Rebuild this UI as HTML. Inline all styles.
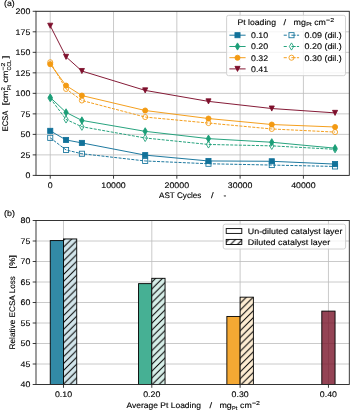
<!DOCTYPE html>
<html><head><meta charset="utf-8"><style>
html,body{margin:0;padding:0;background:#fff;width:350px;height:410px;overflow:hidden}
svg{display:block}
text{font-family:"Liberation Sans", sans-serif}
svg{will-change:transform}
text{stroke:#000;stroke-width:0.12px;paint-order:fill}
</style></head><body>
<svg width="350" height="410" viewBox="0 0 350 410" font-family='"Liberation Sans", sans-serif' text-rendering="geometricPrecision">
<rect width="350" height="410" fill="#fff"/>
<defs>
<clipPath id="ca"><rect x="36.00" y="11.30" width="313.30" height="164.10"/></clipPath>
<clipPath id="cb"><rect x="36.00" y="220.50" width="313.30" height="164.00"/></clipPath>
<pattern id="hatch" patternUnits="userSpaceOnUse" x="2.4" y="0" width="6.85" height="6.85"><path d="M-1 1.00 L1 -1 M0 6.85 L6.85 0 M5.85 7.85 L7.85 5.85" stroke="#000" stroke-width="1.0"/></pattern>
</defs>
<g stroke="#bdbdbd" stroke-width="0.8">
<line x1="50.24" y1="11.3" x2="50.24" y2="175.4"/>
<line x1="113.53" y1="11.3" x2="113.53" y2="175.4"/>
<line x1="176.83" y1="11.3" x2="176.83" y2="175.4"/>
<line x1="240.12" y1="11.3" x2="240.12" y2="175.4"/>
<line x1="303.41" y1="11.3" x2="303.41" y2="175.4"/>
<line x1="36.0" y1="175.40" x2="349.3" y2="175.40"/>
<line x1="36.0" y1="154.89" x2="349.3" y2="154.89"/>
<line x1="36.0" y1="134.38" x2="349.3" y2="134.38"/>
<line x1="36.0" y1="113.86" x2="349.3" y2="113.86"/>
<line x1="36.0" y1="93.35" x2="349.3" y2="93.35"/>
<line x1="36.0" y1="72.84" x2="349.3" y2="72.84"/>
<line x1="36.0" y1="52.33" x2="349.3" y2="52.33"/>
<line x1="36.0" y1="31.81" x2="349.3" y2="31.81"/>
<line x1="36.0" y1="11.30" x2="349.3" y2="11.30"/>
</g>
<g clip-path="url(#ca)">
<polyline points="50.24,130.85 66.06,139.95 81.89,142.91 145.18,155.13 208.47,160.96 271.77,161.29 335.06,164.08" fill="none" stroke="#12729a" stroke-width="0.95" stroke-linejoin="round"/>
<rect x="47.69" y="128.30" width="5.10" height="5.10" fill="#12729a" stroke="#12729a" stroke-width="0.85"/>
<rect x="63.51" y="137.40" width="5.10" height="5.10" fill="#12729a" stroke="#12729a" stroke-width="0.85"/>
<rect x="79.34" y="140.36" width="5.10" height="5.10" fill="#12729a" stroke="#12729a" stroke-width="0.85"/>
<rect x="142.63" y="152.58" width="5.10" height="5.10" fill="#12729a" stroke="#12729a" stroke-width="0.85"/>
<rect x="205.92" y="158.41" width="5.10" height="5.10" fill="#12729a" stroke="#12729a" stroke-width="0.85"/>
<rect x="269.22" y="158.74" width="5.10" height="5.10" fill="#12729a" stroke="#12729a" stroke-width="0.85"/>
<rect x="332.51" y="161.53" width="5.10" height="5.10" fill="#12729a" stroke="#12729a" stroke-width="0.85"/>
<polyline points="50.24,137.82 66.06,149.96 81.89,153.74 145.18,160.96 208.47,163.75 271.77,165.06 335.06,166.46" fill="none" stroke="#12729a" stroke-width="0.95" stroke-dasharray="3.0 1.3" stroke-linejoin="round"/>
<rect x="47.69" y="135.27" width="5.10" height="5.10" fill="none" stroke="#12729a" stroke-width="0.85"/>
<rect x="63.51" y="147.41" width="5.10" height="5.10" fill="none" stroke="#12729a" stroke-width="0.85"/>
<rect x="79.34" y="151.19" width="5.10" height="5.10" fill="none" stroke="#12729a" stroke-width="0.85"/>
<rect x="142.63" y="158.41" width="5.10" height="5.10" fill="none" stroke="#12729a" stroke-width="0.85"/>
<rect x="205.92" y="161.20" width="5.10" height="5.10" fill="none" stroke="#12729a" stroke-width="0.85"/>
<rect x="269.22" y="162.51" width="5.10" height="5.10" fill="none" stroke="#12729a" stroke-width="0.85"/>
<rect x="332.51" y="163.91" width="5.10" height="5.10" fill="none" stroke="#12729a" stroke-width="0.85"/>
<polyline points="50.24,97.45 66.06,112.39 81.89,120.43 145.18,131.34 208.47,138.64 271.77,142.25 335.06,148.16" fill="none" stroke="#1b9e77" stroke-width="0.95" stroke-linejoin="round"/>
<path d="M50.24 93.85L52.40 97.45L50.24 101.06L48.08 97.45Z" fill="#1b9e77" stroke="#1b9e77" stroke-width="0.85"/>
<path d="M66.06 108.78L68.23 112.39L66.06 115.99L63.90 112.39Z" fill="#1b9e77" stroke="#1b9e77" stroke-width="0.85"/>
<path d="M81.89 116.82L84.05 120.43L81.89 124.03L79.72 120.43Z" fill="#1b9e77" stroke="#1b9e77" stroke-width="0.85"/>
<path d="M145.18 127.73L147.34 131.34L145.18 134.95L143.02 131.34Z" fill="#1b9e77" stroke="#1b9e77" stroke-width="0.85"/>
<path d="M208.47 135.04L210.64 138.64L208.47 142.25L206.31 138.64Z" fill="#1b9e77" stroke="#1b9e77" stroke-width="0.85"/>
<path d="M271.77 138.65L273.93 142.25L271.77 145.86L269.60 142.25Z" fill="#1b9e77" stroke="#1b9e77" stroke-width="0.85"/>
<path d="M335.06 144.55L337.22 148.16L335.06 151.77L332.90 148.16Z" fill="#1b9e77" stroke="#1b9e77" stroke-width="0.85"/>
<polyline points="50.24,98.27 66.06,119.44 81.89,126.74 145.18,137.99 208.47,144.47 271.77,145.86 335.06,149.31" fill="none" stroke="#1b9e77" stroke-width="0.95" stroke-dasharray="3.0 1.3" stroke-linejoin="round"/>
<path d="M50.24 94.67L52.40 98.27L50.24 101.88L48.08 98.27Z" fill="none" stroke="#1b9e77" stroke-width="0.85"/>
<path d="M66.06 115.84L68.23 119.44L66.06 123.05L63.90 119.44Z" fill="none" stroke="#1b9e77" stroke-width="0.85"/>
<path d="M81.89 123.14L84.05 126.74L81.89 130.35L79.72 126.74Z" fill="none" stroke="#1b9e77" stroke-width="0.85"/>
<path d="M145.18 134.38L147.34 137.99L145.18 141.59L143.02 137.99Z" fill="none" stroke="#1b9e77" stroke-width="0.85"/>
<path d="M208.47 140.86L210.64 144.47L208.47 148.07L206.31 144.47Z" fill="none" stroke="#1b9e77" stroke-width="0.85"/>
<path d="M271.77 142.26L273.93 145.86L271.77 149.47L269.60 145.86Z" fill="none" stroke="#1b9e77" stroke-width="0.85"/>
<path d="M335.06 145.70L337.22 149.31L335.06 152.91L332.90 149.31Z" fill="none" stroke="#1b9e77" stroke-width="0.85"/>
<polyline points="50.24,64.14 66.06,85.56 81.89,95.57 145.18,110.50 208.47,118.54 271.77,124.53 335.06,126.99" fill="none" stroke="#f39a12" stroke-width="0.95" stroke-linejoin="round"/>
<circle cx="50.24" cy="64.14" r="2.55" fill="#f39a12" stroke="#f39a12" stroke-width="0.85"/>
<circle cx="66.06" cy="85.56" r="2.55" fill="#f39a12" stroke="#f39a12" stroke-width="0.85"/>
<circle cx="81.89" cy="95.57" r="2.55" fill="#f39a12" stroke="#f39a12" stroke-width="0.85"/>
<circle cx="145.18" cy="110.50" r="2.55" fill="#f39a12" stroke="#f39a12" stroke-width="0.85"/>
<circle cx="208.47" cy="118.54" r="2.55" fill="#f39a12" stroke="#f39a12" stroke-width="0.85"/>
<circle cx="271.77" cy="124.53" r="2.55" fill="#f39a12" stroke="#f39a12" stroke-width="0.85"/>
<circle cx="335.06" cy="126.99" r="2.55" fill="#f39a12" stroke="#f39a12" stroke-width="0.85"/>
<polyline points="50.24,62.25 66.06,88.92 81.89,100.49 145.18,117.06 208.47,123.05 271.77,128.96 335.06,132.08" fill="none" stroke="#f39a12" stroke-width="0.95" stroke-dasharray="3.0 1.3" stroke-linejoin="round"/>
<circle cx="50.24" cy="62.25" r="2.55" fill="none" stroke="#f39a12" stroke-width="0.85"/>
<circle cx="66.06" cy="88.92" r="2.55" fill="none" stroke="#f39a12" stroke-width="0.85"/>
<circle cx="81.89" cy="100.49" r="2.55" fill="none" stroke="#f39a12" stroke-width="0.85"/>
<circle cx="145.18" cy="117.06" r="2.55" fill="none" stroke="#f39a12" stroke-width="0.85"/>
<circle cx="208.47" cy="123.05" r="2.55" fill="none" stroke="#f39a12" stroke-width="0.85"/>
<circle cx="271.77" cy="128.96" r="2.55" fill="none" stroke="#f39a12" stroke-width="0.85"/>
<circle cx="335.06" cy="132.08" r="2.55" fill="none" stroke="#f39a12" stroke-width="0.85"/>
<polyline points="50.24,25.74 66.06,56.84 81.89,71.03 145.18,90.40 208.47,101.39 271.77,108.53 335.06,112.88" fill="none" stroke="#7e0f2c" stroke-width="0.95" stroke-linejoin="round"/>
<path d="M47.69 23.19L52.79 23.19L50.24 28.29Z" fill="#7e0f2c" stroke="#7e0f2c" stroke-width="0.85" stroke-linejoin="miter"/>
<path d="M63.51 54.29L68.61 54.29L66.06 59.39Z" fill="#7e0f2c" stroke="#7e0f2c" stroke-width="0.85" stroke-linejoin="miter"/>
<path d="M79.34 68.48L84.44 68.48L81.89 73.58Z" fill="#7e0f2c" stroke="#7e0f2c" stroke-width="0.85" stroke-linejoin="miter"/>
<path d="M142.63 87.85L147.73 87.85L145.18 92.95Z" fill="#7e0f2c" stroke="#7e0f2c" stroke-width="0.85" stroke-linejoin="miter"/>
<path d="M205.92 98.84L211.02 98.84L208.47 103.94Z" fill="#7e0f2c" stroke="#7e0f2c" stroke-width="0.85" stroke-linejoin="miter"/>
<path d="M269.22 105.98L274.32 105.98L271.77 111.08Z" fill="#7e0f2c" stroke="#7e0f2c" stroke-width="0.85" stroke-linejoin="miter"/>
<path d="M332.51 110.33L337.61 110.33L335.06 115.43Z" fill="#7e0f2c" stroke="#7e0f2c" stroke-width="0.85" stroke-linejoin="miter"/>
</g>
<rect x="226.6" y="15.3" width="118.90" height="60.40" rx="2" fill="#fff" fill-opacity="0.8" stroke="#cdcdcd" stroke-width="0.9"/>
<text x="237.50" y="24.90" font-size="8.10" textLength="38.47" lengthAdjust="spacingAndGlyphs" fill="#000" >Pt loading</text>
<text x="283.61" y="24.90" font-size="8.10" textLength="2.59" lengthAdjust="spacingAndGlyphs" fill="#000" >/</text>
<text x="293.60" y="24.90" font-size="8.10" textLength="12.39" lengthAdjust="spacingAndGlyphs" fill="#000" >mg</text>
<text x="306.15" y="26.21" font-size="5.67" textLength="5.36" lengthAdjust="spacingAndGlyphs" fill="#000" >Pt</text>
<text x="314.23" y="24.90" font-size="8.10" textLength="11.73" lengthAdjust="spacingAndGlyphs" fill="#000" >cm</text>
<text x="326.11" y="21.84" font-size="5.67" textLength="7.95" lengthAdjust="spacingAndGlyphs" fill="#000" >−2</text>
<line x1="229.4" y1="35.2" x2="245.6" y2="35.2" stroke="#12729a" stroke-width="0.95"/>
<rect x="234.95" y="32.65" width="5.10" height="5.10" fill="#12729a" stroke="#12729a" stroke-width="0.85"/>
<text x="251.00" y="38.00" font-size="8.10" textLength="17.14" lengthAdjust="spacingAndGlyphs" fill="#000" >0.10</text>
<line x1="229.4" y1="46.5" x2="245.6" y2="46.5" stroke="#1b9e77" stroke-width="0.95"/>
<path d="M237.50 42.89L239.66 46.50L237.50 50.11L235.34 46.50Z" fill="#1b9e77" stroke="#1b9e77" stroke-width="0.85"/>
<text x="251.00" y="49.30" font-size="8.10" textLength="17.14" lengthAdjust="spacingAndGlyphs" fill="#000" >0.20</text>
<line x1="229.4" y1="57.7" x2="245.6" y2="57.7" stroke="#f39a12" stroke-width="0.95"/>
<circle cx="237.50" cy="57.70" r="2.55" fill="#f39a12" stroke="#f39a12" stroke-width="0.85"/>
<text x="251.00" y="60.50" font-size="8.10" textLength="17.14" lengthAdjust="spacingAndGlyphs" fill="#000" >0.32</text>
<line x1="229.4" y1="68.9" x2="245.6" y2="68.9" stroke="#7e0f2c" stroke-width="0.95"/>
<path d="M234.95 66.35L240.05 66.35L237.50 71.45Z" fill="#7e0f2c" stroke="#7e0f2c" stroke-width="0.85" stroke-linejoin="miter"/>
<text x="251.00" y="71.70" font-size="8.10" textLength="17.14" lengthAdjust="spacingAndGlyphs" fill="#000" >0.41</text>
<path d="M283.7 35.2H286.8M291.4 35.2H295.7M296.9 35.2H299.1" stroke="#12729a" stroke-width="0.95"/>
<rect x="288.95" y="32.65" width="5.10" height="5.10" fill="none" stroke="#12729a" stroke-width="0.85"/>
<text x="304.60" y="38.00" font-size="8.10" textLength="37.21" lengthAdjust="spacingAndGlyphs" fill="#000" >0.09 (dil.)</text>
<path d="M283.7 46.5H286.8M291.4 46.5H295.7M296.9 46.5H299.1" stroke="#1b9e77" stroke-width="0.95"/>
<path d="M291.50 42.89L293.66 46.50L291.50 50.11L289.34 46.50Z" fill="none" stroke="#1b9e77" stroke-width="0.85"/>
<text x="304.60" y="49.30" font-size="8.10" textLength="37.21" lengthAdjust="spacingAndGlyphs" fill="#000" >0.20 (dil.)</text>
<path d="M283.7 57.7H286.8M291.4 57.7H295.7M296.9 57.7H299.1" stroke="#f39a12" stroke-width="0.95"/>
<circle cx="291.50" cy="57.70" r="2.55" fill="none" stroke="#f39a12" stroke-width="0.85"/>
<text x="304.60" y="60.50" font-size="8.10" textLength="37.21" lengthAdjust="spacingAndGlyphs" fill="#000" >0.30 (dil.)</text>
<rect x="36.0" y="11.3" width="313.30" height="164.10" fill="none" stroke="#262626" stroke-width="0.9"/>
<g stroke="#262626" stroke-width="0.9">
<line x1="32.70" y1="175.40" x2="36.0" y2="175.40"/>
<line x1="32.70" y1="154.89" x2="36.0" y2="154.89"/>
<line x1="32.70" y1="134.38" x2="36.0" y2="134.38"/>
<line x1="32.70" y1="113.86" x2="36.0" y2="113.86"/>
<line x1="32.70" y1="93.35" x2="36.0" y2="93.35"/>
<line x1="32.70" y1="72.84" x2="36.0" y2="72.84"/>
<line x1="32.70" y1="52.33" x2="36.0" y2="52.33"/>
<line x1="32.70" y1="31.81" x2="36.0" y2="31.81"/>
<line x1="32.70" y1="11.30" x2="36.0" y2="11.30"/>
<line x1="50.24" y1="175.4" x2="50.24" y2="178.70"/>
<line x1="113.53" y1="175.4" x2="113.53" y2="178.70"/>
<line x1="176.83" y1="175.4" x2="176.83" y2="178.70"/>
<line x1="240.12" y1="175.4" x2="240.12" y2="178.70"/>
<line x1="303.41" y1="175.4" x2="303.41" y2="178.70"/>
</g>
<text x="25.40" y="178.25" font-size="8.10" textLength="4.90" lengthAdjust="spacingAndGlyphs" fill="#000" >0</text>
<text x="20.50" y="157.74" font-size="8.10" textLength="9.80" lengthAdjust="spacingAndGlyphs" fill="#000" >25</text>
<text x="20.50" y="137.22" font-size="8.10" textLength="9.80" lengthAdjust="spacingAndGlyphs" fill="#000" >50</text>
<text x="20.50" y="116.71" font-size="8.10" textLength="9.80" lengthAdjust="spacingAndGlyphs" fill="#000" >75</text>
<text x="15.60" y="96.20" font-size="8.10" textLength="14.70" lengthAdjust="spacingAndGlyphs" fill="#000" >100</text>
<text x="15.60" y="75.69" font-size="8.10" textLength="14.70" lengthAdjust="spacingAndGlyphs" fill="#000" >125</text>
<text x="15.60" y="55.18" font-size="8.10" textLength="14.70" lengthAdjust="spacingAndGlyphs" fill="#000" >150</text>
<text x="15.60" y="34.66" font-size="8.10" textLength="14.70" lengthAdjust="spacingAndGlyphs" fill="#000" >175</text>
<text x="15.60" y="14.15" font-size="8.10" textLength="14.70" lengthAdjust="spacingAndGlyphs" fill="#000" >200</text>
<text x="47.79" y="187.60" font-size="8.10" textLength="4.90" lengthAdjust="spacingAndGlyphs" fill="#000" >0</text>
<text x="101.29" y="187.60" font-size="8.10" textLength="24.49" lengthAdjust="spacingAndGlyphs" fill="#000" >10000</text>
<text x="164.58" y="187.60" font-size="8.10" textLength="24.49" lengthAdjust="spacingAndGlyphs" fill="#000" >20000</text>
<text x="227.87" y="187.60" font-size="8.10" textLength="24.49" lengthAdjust="spacingAndGlyphs" fill="#000" >30000</text>
<text x="291.17" y="187.60" font-size="8.10" textLength="24.49" lengthAdjust="spacingAndGlyphs" fill="#000" >40000</text>
<text x="159.00" y="198.00" font-size="8.10" textLength="42.36" lengthAdjust="spacingAndGlyphs" fill="#000" >AST Cycles</text>
<text x="211.00" y="198.00" font-size="8.10" textLength="2.59" lengthAdjust="spacingAndGlyphs" fill="#000" >/</text>
<text x="223.60" y="198.00" font-size="8.10" textLength="2.78" lengthAdjust="spacingAndGlyphs" fill="#000" >-</text>
<text transform="translate(8.40,131.30) rotate(-90)" x="0" y="0" font-size="8.10" textLength="20.54" lengthAdjust="spacingAndGlyphs">ECSA</text>
<text transform="translate(8.40,105.40) rotate(-90)" x="0" y="0" font-size="8.10" textLength="3.00" lengthAdjust="spacingAndGlyphs">[</text>
<text transform="translate(8.40,102.38) rotate(-90)" x="0" y="0" font-size="8.10" textLength="11.73" lengthAdjust="spacingAndGlyphs">cm</text>
<text transform="translate(5.34,90.49) rotate(-90)" x="0" y="0" font-size="5.67" textLength="3.43" lengthAdjust="spacingAndGlyphs">2</text>
<text transform="translate(10.59,90.49) rotate(-90)" x="0" y="0" font-size="5.67" textLength="5.36" lengthAdjust="spacingAndGlyphs">Pt</text>
<text transform="translate(8.40,82.41) rotate(-90)" x="0" y="0" font-size="8.10" textLength="11.73" lengthAdjust="spacingAndGlyphs">cm</text>
<text transform="translate(5.34,70.52) rotate(-90)" x="0" y="0" font-size="5.67" textLength="7.95" lengthAdjust="spacingAndGlyphs">−2</text>
<text transform="translate(10.59,70.52) rotate(-90)" x="0" y="0" font-size="5.67" textLength="10.53" lengthAdjust="spacingAndGlyphs">CCL</text>
<text transform="translate(8.40,58.50) rotate(-90)" x="0" y="0" font-size="8.10" textLength="3.00" lengthAdjust="spacingAndGlyphs">]</text>
<text x="4.00" y="6.30" font-size="8.10" textLength="10.73" lengthAdjust="spacingAndGlyphs" fill="#000" >(a)</text>
<g stroke="#bdbdbd" stroke-width="0.8">
<line x1="63.49" y1="220.5" x2="63.49" y2="384.5"/>
<line x1="151.80" y1="220.5" x2="151.80" y2="384.5"/>
<line x1="240.12" y1="220.5" x2="240.12" y2="384.5"/>
<line x1="328.44" y1="220.5" x2="328.44" y2="384.5"/>
<line x1="36.0" y1="384.50" x2="349.3" y2="384.50"/>
<line x1="36.0" y1="364.00" x2="349.3" y2="364.00"/>
<line x1="36.0" y1="343.50" x2="349.3" y2="343.50"/>
<line x1="36.0" y1="323.00" x2="349.3" y2="323.00"/>
<line x1="36.0" y1="302.50" x2="349.3" y2="302.50"/>
<line x1="36.0" y1="282.00" x2="349.3" y2="282.00"/>
<line x1="36.0" y1="261.50" x2="349.3" y2="261.50"/>
<line x1="36.0" y1="241.00" x2="349.3" y2="241.00"/>
<line x1="36.0" y1="220.50" x2="349.3" y2="220.50"/>
</g>
<g clip-path="url(#cb)">
<rect x="50.24" y="240.59" width="13.25" height="143.91" fill="#328aa6" stroke="#000" stroke-width="0.9"/>
<rect x="63.49" y="238.95" width="13.25" height="145.55" fill="#fff"/><rect x="63.49" y="238.95" width="13.25" height="145.55" fill="#328aa6" fill-opacity="0.22"/>
<rect x="63.49" y="238.95" width="13.25" height="145.55" fill="url(#hatch)" stroke="#000" stroke-width="0.9"/>
<rect x="138.56" y="283.64" width="13.25" height="100.86" fill="#46b094" stroke="#000" stroke-width="0.9"/>
<rect x="151.80" y="278.31" width="13.25" height="106.19" fill="#fff"/><rect x="151.80" y="278.31" width="13.25" height="106.19" fill="#46b094" fill-opacity="0.22"/>
<rect x="151.80" y="278.31" width="13.25" height="106.19" fill="url(#hatch)" stroke="#000" stroke-width="0.9"/>
<rect x="226.87" y="316.44" width="13.25" height="68.06" fill="#f4a833" stroke="#000" stroke-width="0.9"/>
<rect x="240.12" y="297.17" width="13.25" height="87.33" fill="#fff"/><rect x="240.12" y="297.17" width="13.25" height="87.33" fill="#f4a833" fill-opacity="0.22"/>
<rect x="240.12" y="297.17" width="13.25" height="87.33" fill="url(#hatch)" stroke="#000" stroke-width="0.9"/>
<rect x="321.81" y="311.11" width="13.25" height="73.39" fill="#79152a" fill-opacity="0.8" stroke="#000" stroke-width="0.9"/>
</g>
<rect x="223.2" y="224.2" width="122.40" height="24.80" rx="2" fill="#fff" fill-opacity="0.8" stroke="#cdcdcd" stroke-width="0.9"/>
<rect x="226.2" y="228.6" width="15.6" height="4.8" fill="#fff" stroke="#000" stroke-width="0.9"/>
<rect x="226.2" y="239.4" width="15.6" height="5.1" fill="url(#hatch)" stroke="#000" stroke-width="0.9"/>
<text x="247.80" y="233.90" font-size="8.10" textLength="94.61" lengthAdjust="spacingAndGlyphs" fill="#000" >Un-diluted catalyst layer</text>
<text x="247.80" y="244.50" font-size="8.10" textLength="82.36" lengthAdjust="spacingAndGlyphs" fill="#000" >Diluted catalyst layer</text>
<rect x="36.0" y="220.5" width="313.30" height="164.00" fill="none" stroke="#262626" stroke-width="0.9"/>
<g stroke="#262626" stroke-width="0.9">
<line x1="32.70" y1="384.50" x2="36.0" y2="384.50"/>
<line x1="32.70" y1="364.00" x2="36.0" y2="364.00"/>
<line x1="32.70" y1="343.50" x2="36.0" y2="343.50"/>
<line x1="32.70" y1="323.00" x2="36.0" y2="323.00"/>
<line x1="32.70" y1="302.50" x2="36.0" y2="302.50"/>
<line x1="32.70" y1="282.00" x2="36.0" y2="282.00"/>
<line x1="32.70" y1="261.50" x2="36.0" y2="261.50"/>
<line x1="32.70" y1="241.00" x2="36.0" y2="241.00"/>
<line x1="32.70" y1="220.50" x2="36.0" y2="220.50"/>
<line x1="63.49" y1="384.5" x2="63.49" y2="387.80"/>
<line x1="151.80" y1="384.5" x2="151.80" y2="387.80"/>
<line x1="240.12" y1="384.5" x2="240.12" y2="387.80"/>
<line x1="328.44" y1="384.5" x2="328.44" y2="387.80"/>
</g>
<text x="20.50" y="387.35" font-size="8.10" textLength="9.80" lengthAdjust="spacingAndGlyphs" fill="#000" >40</text>
<text x="20.50" y="366.85" font-size="8.10" textLength="9.80" lengthAdjust="spacingAndGlyphs" fill="#000" >45</text>
<text x="20.50" y="346.35" font-size="8.10" textLength="9.80" lengthAdjust="spacingAndGlyphs" fill="#000" >50</text>
<text x="20.50" y="325.85" font-size="8.10" textLength="9.80" lengthAdjust="spacingAndGlyphs" fill="#000" >55</text>
<text x="20.50" y="305.35" font-size="8.10" textLength="9.80" lengthAdjust="spacingAndGlyphs" fill="#000" >60</text>
<text x="20.50" y="284.85" font-size="8.10" textLength="9.80" lengthAdjust="spacingAndGlyphs" fill="#000" >65</text>
<text x="20.50" y="264.35" font-size="8.10" textLength="9.80" lengthAdjust="spacingAndGlyphs" fill="#000" >70</text>
<text x="20.50" y="243.85" font-size="8.10" textLength="9.80" lengthAdjust="spacingAndGlyphs" fill="#000" >75</text>
<text x="20.50" y="223.35" font-size="8.10" textLength="9.80" lengthAdjust="spacingAndGlyphs" fill="#000" >80</text>
<text x="54.92" y="396.70" font-size="8.10" textLength="17.14" lengthAdjust="spacingAndGlyphs" fill="#000" >0.10</text>
<text x="143.23" y="396.70" font-size="8.10" textLength="17.14" lengthAdjust="spacingAndGlyphs" fill="#000" >0.20</text>
<text x="231.55" y="396.70" font-size="8.10" textLength="17.14" lengthAdjust="spacingAndGlyphs" fill="#000" >0.30</text>
<text x="319.86" y="396.70" font-size="8.10" textLength="17.14" lengthAdjust="spacingAndGlyphs" fill="#000" >0.40</text>
<text x="126.40" y="408.30" font-size="8.10" textLength="74.56" lengthAdjust="spacingAndGlyphs" fill="#000" >Average Pt Loading</text>
<text x="209.40" y="408.30" font-size="8.10" textLength="2.59" lengthAdjust="spacingAndGlyphs" fill="#000" >/</text>
<text x="219.40" y="408.30" font-size="8.10" textLength="12.39" lengthAdjust="spacingAndGlyphs" fill="#000" >mg</text>
<text x="231.95" y="409.61" font-size="5.67" textLength="5.36" lengthAdjust="spacingAndGlyphs" fill="#000" >Pt</text>
<text x="240.03" y="408.30" font-size="8.10" textLength="11.73" lengthAdjust="spacingAndGlyphs" fill="#000" >cm</text>
<text x="251.91" y="405.24" font-size="5.67" textLength="7.95" lengthAdjust="spacingAndGlyphs" fill="#000" >−2</text>
<text transform="translate(14.90,349.40) rotate(-90)" x="0" y="0" font-size="8.10" textLength="73.38" lengthAdjust="spacingAndGlyphs">Relative ECSA Loss</text>
<text transform="translate(14.90,268.40) rotate(-90)" x="0" y="0" font-size="8.10" textLength="13.32" lengthAdjust="spacingAndGlyphs">[%]</text>
<text x="4.00" y="215.60" font-size="8.10" textLength="10.90" lengthAdjust="spacingAndGlyphs" fill="#000" >(b)</text>
</svg>
</body></html>
